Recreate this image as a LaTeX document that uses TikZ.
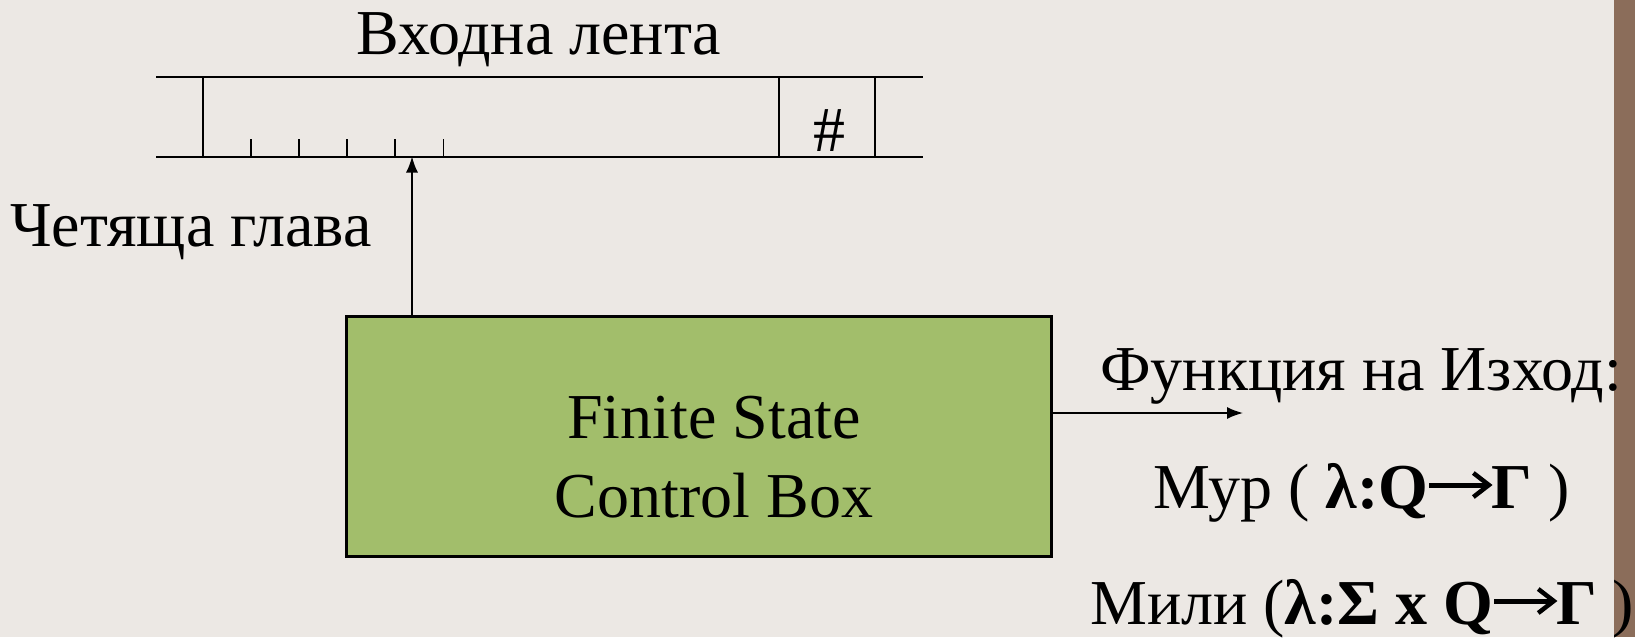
\documentclass[tikz,border=0pt]{standalone}
\usepackage{fontspec}
\setmainfont{Liberation Serif}
\usetikzlibrary{arrows.meta}
\definecolor{bg}{RGB}{236,232,228}
\definecolor{boxgreen}{RGB}{162,190,107}
\definecolor{barbrown}{RGB}{139,109,90}
\newcommand{\myarr}{\tikz[x=1pt,y=1pt,baseline=0pt]{\useasboundingbox (0,0) rectangle (63,36);
  \draw[line width=5pt] (1,23) -- (59,23);
  \draw[line width=4.5pt, line join=miter] (45,35) -- (60.5,23) -- (45,11);}}
\tikzset{
  tapeline/.style={line width=2pt},
  tickline/.style={line width=1.6pt},
  fscbox/.style={draw, line width=3pt, fill=boxgreen, minimum width=705pt, minimum height=240pt, inner sep=0pt},
  arrowline/.style={line width=1.6pt, -{Latex[length=16pt,width=12pt]}},
  txt/.style={inner sep=0pt, anchor=base},
  txtw/.style={inner sep=0pt, anchor=base west}
}
\begin{document}
\begin{tikzpicture}[x=1pt,y=-1pt, font=\fontsize{64}{79}\selectfont]
\useasboundingbox (0,0) rectangle (1635,637);
\fill[bg] (0,0) rectangle (1635,637);
\fill[barbrown] (1614,0) rectangle (1635,637);

% tape
\coordinate (tl) at (156,76.5);
\coordinate (tr) at (923,76.5);
\coordinate (bl) at (156,156.5);
\coordinate (br) at (923,156.5);
\draw[tapeline] (tl) -- (tr);
\draw[tapeline] (bl) -- (br);
\foreach \x in {202.5,779,874.5}
  \draw[tapeline] (\x,76.5) -- (\x,156.5);
\foreach \x in {251,299,347,395,443.5}
  \draw[tickline] (\x,139) -- (\x,156.5);
\node[txt] (hash) at (829,151.5) {\#};
\node[txt] (tapelabel) at (539,54) {Входна лента};

% head
\coordinate (head) at (412,156.5);
\node[txtw] (headlabel) at (10,246) {Четяща глава};

% control box
\node[fscbox] (fsc) at (698.5,436) {};
\node[txt] (fsc1) at (714,438) {Finite State};
\node[txt] (fsc2) at (714,517) {Control Box};
\draw[arrowline] (fsc.north -| head) -- (head);

% output
\coordinate (outend) at (1243,413);
\draw[arrowline] (fsc.east |- outend) -- (outend);
\node[txtw] (outlabel) at (1100,390) {Функция на Изход:};
\node[txtw] (moore) at (1153,508) {Мур ( \textbf{λ:Q\myarr Γ} )};
\node[txtw] (mealy) at (1090,624) {Мили (\textbf{λ:Σ x Q\myarr Γ} )};
\end{tikzpicture}
\end{document}
